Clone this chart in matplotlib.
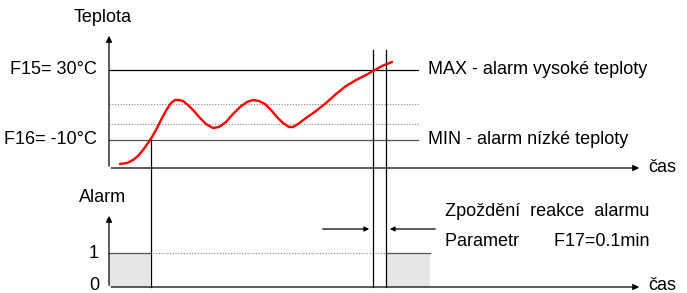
import matplotlib.pyplot as plt
import numpy as np

plt.rcParams['font.family'] = ['Liberation Sans', 'DejaVu Sans']

# diagram coordinates are pixels of the original picture (y grows downward)
curve_x = [120, 127, 133, 138, 143, 148, 152, 157, 162, 167, 171, 175, 179, 183,
           188, 194, 200, 206, 213, 219, 226, 233, 240, 247, 253, 259, 265, 271,
           277, 283, 289, 293, 298, 306, 316, 326, 336, 346, 356, 366, 373, 382, 392]
curve_y = [164, 163, 160, 156, 150, 143, 137, 128, 118, 109, 103, 100, 100, 101,
           105, 111, 118, 124, 128, 127, 122, 114, 107, 102, 100, 101, 104, 110,
           117, 123, 127, 127, 124, 118, 111, 103, 94, 86, 80, 75, 71, 66, 62]

left_labels = ["F15= 30°C", "F16= -10°C"]
right_labels = ["MAX - alarm vysoké teploty", "MIN - alarm nízké teploty"]
limit_y = [70, 140]
dotted_y = [104, 124]
alarm_on = [(109, 150), (386, 430)]

fig = plt.figure(figsize=(6.87, 2.93), dpi=100)
ax = fig.add_axes([0, 0, 1, 1])
ax.set_xlim(0, 687)
ax.set_ylim(293, 0)
ax.axis('off')

fs = 13
lw = 0.9
k = 'black'

# top panel axes
ax.annotate('', xy=(109, 33), xytext=(109, 169),
            arrowprops=dict(arrowstyle='-|>', color=k, lw=lw, mutation_scale=9))
ax.annotate('', xy=(642, 168), xytext=(108.5, 168),
            arrowprops=dict(arrowstyle='-|>', color=k, lw=lw, mutation_scale=9))
ax.text(103, 17, "Teplota", fontsize=fs, ha='center', va='center')
ax.text(648, 167, "čas", fontsize=fs, ha='left', va='center')

# limit lines
for y, ll, rl, c in zip(limit_y, left_labels, right_labels, [k, '#555555']):
    ax.plot([109, 418], [y, y], color=c, lw=lw)
    ax.text(97, y, ll, fontsize=fs, ha='right', va='center')
    ax.text(428, y, rl, fontsize=fs, ha='left', va='center')
for y in dotted_y:
    ax.plot([109, 420], [y, y], color='#888888', lw=0.8, ls=(0, (1, 1.5)))

# bottom panel axes
ax.annotate('', xy=(109, 213), xytext=(109, 288),
            arrowprops=dict(arrowstyle='-|>', color=k, lw=lw, mutation_scale=9))
ax.annotate('', xy=(642, 287), xytext=(108.5, 287),
            arrowprops=dict(arrowstyle='-|>', color=k, lw=lw, mutation_scale=9))
ax.text(103, 198, "Alarm", fontsize=fs, ha='center', va='center')
ax.text(648, 285, "čas", fontsize=fs, ha='left', va='center')
ax.text(99, 254, "1", fontsize=fs, ha='right', va='center')
ax.text(99, 286, "0", fontsize=fs, ha='right', va='center')

# alarm level
ax.plot([150, 386], [253, 253], color='#888888', lw=0.8, ls=(0, (1, 1.5)))
for x0, x1 in alarm_on:
    ax.fill_between([x0, x1], 253, 287, color='#e6e6e6', lw=0)
    ax.plot([x0, x1], [253, 253], color='#555555', lw=lw)

# vertical markers
ax.plot([150.5, 150.5], [140, 287], color=k, lw=lw)
ax.plot([373, 373], [50, 287], color=k, lw=lw)
ax.plot([386, 386], [50, 287], color=k, lw=lw)

# delay arrows
ax.annotate('', xy=(372, 229), xytext=(320, 229),
            arrowprops=dict(arrowstyle='-|>', color=k, lw=lw, mutation_scale=7))
ax.annotate('', xy=(387, 229), xytext=(438, 229),
            arrowprops=dict(arrowstyle='-|>', color=k, lw=lw, mutation_scale=7))
ax.text(445, 212, "Zpoždění  reakce  alarmu", fontsize=fs, ha='left', va='center')
ax.text(445, 241, "Parametr       F17=0.1min", fontsize=fs, ha='left', va='center')

# temperature curve
ax.plot(curve_x, curve_y, color='#ff0000', lw=1.7, solid_capstyle='round',
        solid_joinstyle='round')

fig.savefig('out.png', dpi=100)
